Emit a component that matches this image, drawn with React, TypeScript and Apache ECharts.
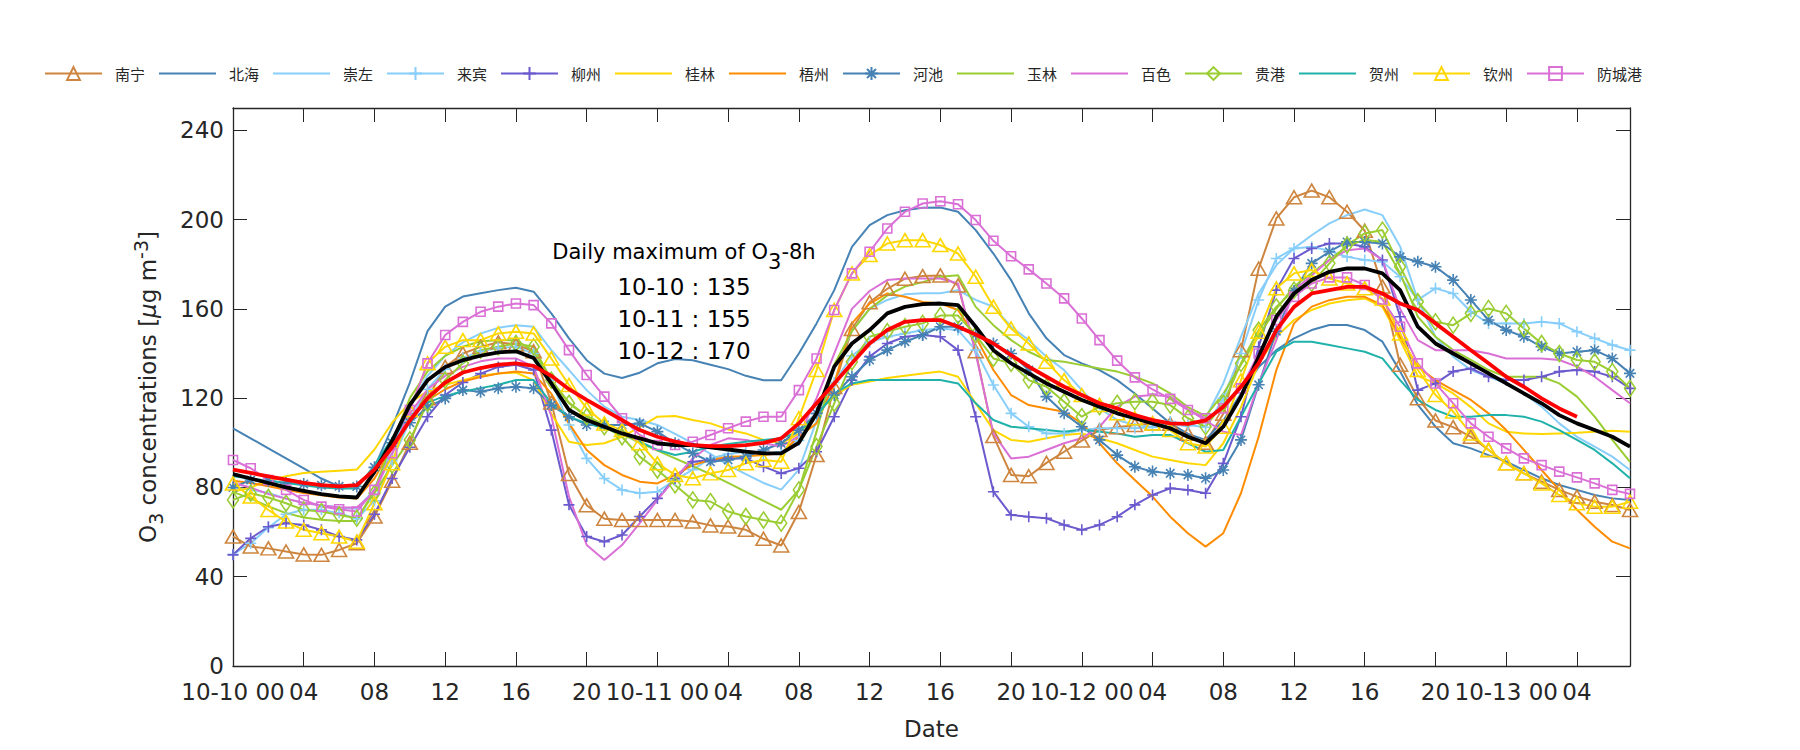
import React, { useEffect, useRef } from "react";
import * as echarts from "echarts";

// ---- data (hourly O3, 10-10 00 .. 10-13 07) ----
const stations = ["南宁", "北海", "崇左", "来宾", "柳州", "桂林", "梧州", "河池", "玉林", "百色", "贵港", "贺州", "钦州", "防城港"];
const stationColors = ["#CD853F", "#4682B4", "#87CEFA", "#87CEFA", "#6A5ACD", "#FFD700", "#FF8C00", "#4682B4", "#9ACD32", "#DA70D6", "#9ACD32", "#20B2AA", "#FFD700", "#DA70D6"];
const stationMarkers = ["triangle", "none", "none", "plus", "plus", "none", "none", "star", "none", "none", "diamond", "none", "triangle", "square"];
const dayLabels = ["10-10", "10-11", "10-12", "10-13"];
const hourLabels = ["00", "04", "08", "12", "16", "20"];

const nanning = [58, 53.5, 52.7, 51.3, 50, 49.8, 52, 55, 67, 83, 100, 120, 134, 140, 143, 145, 144, 141, 118, 86, 72, 66, 65.4, 65.4, 65.4, 65.4, 64.7, 63, 62.5, 61, 57, 54, 69, 94.5, 125, 151, 163, 169, 173.5, 174.7, 175, 170.5, 141, 103, 85.6, 85, 91, 96, 101, 105.7, 107, 108, 108.7, 108.5, 104, 100, 113, 141.5, 178, 200.5, 210, 213, 210, 203.5, 195, 170, 135, 120, 110, 107, 102.7, 96.8, 90.8, 86.3, 82.6, 78.9, 75.9, 73.6, 72.1, 69.9];
const beihai = [106.5, 102, 97.5, 93, 88.5, 84, 80.5, 80.5, 89, 107, 127, 150, 161, 165.5, 167, 168.4, 169.5, 167.7, 158, 146.8, 137, 131, 129, 131.4, 135.6, 137.5, 137, 135, 133, 130, 128, 128, 140, 153.5, 168.4, 187.8, 197.5, 202, 204.2, 205.3, 205.4, 203.5, 195.3, 184.8, 172.9, 158, 146.8, 139.3, 135.6, 132.6, 128.1, 122.1, 115.4, 108.7, 104, 101.3, 110, 122, 134, 141.5, 146.8, 150.5, 152.8, 152.8, 150.5, 145.3, 132, 117, 107.2, 99.8, 97.5, 94.5, 91.6, 87.8, 84.1, 81.1, 78.9, 76.6, 75.1, 74.4];
const chongzuo = [80, 79, 77.5, 75, 73, 72, 71, 70.5, 79, 98, 117, 130, 139, 145, 149, 151.5, 152.7, 152, 141.5, 132.6, 123.6, 116.2, 111.7, 110.2, 108, 104, 99.8, 95, 90, 86, 82, 79, 88, 110, 133, 150, 160, 164, 166.5, 167, 167, 168.4, 164, 161, 152, 146, 138.6, 132.6, 123.6, 115.4, 110.2, 108, 107.2, 108.7, 107.2, 111, 126.6, 147.5, 166.9, 179.6, 187.1, 193, 198.3, 202, 204.5, 202, 188, 164, 147.5, 138.6, 132.6, 129.6, 126.6, 122.1, 116.2, 108.7, 102.7, 98.3, 93.8, 87.8];
const laibin = [50, 55, 62, 68, 70, 70, 68.5, 66, 74, 92, 110, 124, 133, 138, 141, 142.5, 143, 140, 128, 108, 93, 84, 78.9, 77.4, 78.1, 83.3, 88, 93, 95, 96, 95, 96, 101, 113, 127, 139, 145, 147.5, 149, 150.5, 151.2, 150.5, 141.5, 125.9, 113.2, 107.2, 104.2, 104.2, 105.7, 106.5, 106.5, 106.5, 107, 109.5, 108, 107, 120, 140, 164, 182.6, 187.1, 187.8, 186, 183.3, 181.9, 181.1, 174.4, 164, 169.2, 166.9, 158.7, 153.5, 153.5, 153.5, 154.2, 153.5, 149.8, 146.8, 143.8, 141.5];
const liuzhou = [49.8, 57.2, 62.4, 64, 63.2, 61, 58, 56.5, 68, 84, 98, 111.7, 121.4, 127, 131, 134, 135, 132.6, 105.7, 72.2, 58, 55.7, 58.7, 67, 75.1, 84, 91.5, 92.3, 93, 93, 89.3, 86.3, 88.6, 96, 111.7, 128, 138.6, 144.5, 147.5, 148.3, 147.5, 141.5, 111.7, 78.1, 67.7, 66.9, 66.2, 63.2, 61, 63.2, 66.9, 72.2, 76.6, 79.6, 78.9, 77.4, 90.8, 111.7, 143, 168.4, 182.6, 187.1, 189.3, 189.3, 187.8, 181.9, 156.5, 123.6, 126.6, 131.9, 133.3, 129.6, 128.1, 128.1, 129.6, 131.9, 132.6, 131.9, 129.6, 124.4];
const guilin = [78, 80, 83, 85, 86.5, 87, 87.5, 88, 97, 109, 118, 123, 126, 128, 130, 131, 131.5, 128, 113, 100.5, 99, 99.8, 102.7, 107, 111.7, 112, 110.2, 108.7, 106, 104.2, 101.3, 99.8, 104, 113, 121, 126, 127.5, 129, 130, 131, 131.9, 129.6, 117.7, 105.7, 101.3, 100.5, 102, 103.5, 104.2, 102, 99.8, 96.8, 93.8, 92.3, 90.8, 90, 99.8, 116, 135.6, 147.5, 155, 159.5, 162.4, 163.9, 164.7, 160.9, 146, 130, 126.6, 122.1, 116, 108.7, 105, 104.2, 103.9, 104.2, 104.5, 105, 105.4, 105];
const wuzhou = [83, 82, 80.5, 79, 77.5, 76.5, 75.5, 75, 84, 98, 110, 119, 124, 127.5, 129.5, 131, 131.9, 131, 122, 108.7, 96.8, 90, 85.6, 82.6, 81.8, 85.6, 90, 92.3, 93.8, 94, 94.5, 95.3, 102.7, 108.7, 126.6, 153.5, 162.4, 166.9, 165.4, 163.1, 162.4, 159.5, 147.5, 132.6, 121.4, 116.9, 115.4, 113.9, 108.7, 99.8, 90.8, 83.3, 75.9, 66.9, 59.5, 53.5, 59.5, 77.4, 102.7, 132.6, 153.5, 161, 163.9, 165.4, 165.4, 161.7, 147.5, 134, 128.1, 123.6, 119.2, 113.2, 105.7, 96.8, 87.8, 78.9, 70, 62.4, 55.7, 52.7];
const hechi = [80, 83.3, 83, 82, 81.5, 81, 80.5, 80.4, 89, 100, 109, 116, 119.9, 123.6, 122.9, 124.4, 125.1, 124.4, 116.9, 111.7, 108, 108, 108, 108.7, 105, 99.8, 95.3, 91.5, 92.3, 93.8, 96.8, 99.8, 105.7, 113.2, 121.4, 129.6, 137.1, 141.5, 145.3, 148.3, 152, 152, 148.5, 144.5, 140, 132.6, 120.7, 113.2, 107.2, 101.3, 94.5, 89.3, 87.1, 86.3, 85.6, 84.1, 87.8, 101.3, 126, 150, 168, 180.4, 185.6, 190, 190, 189.3, 183.3, 181.1, 178.9, 172.9, 164, 155, 150.5, 147.5, 143, 140, 140.8, 141.5, 137.8, 131.1];
const yulin = [78, 75, 71.5, 68.5, 66.5, 65.5, 65, 65, 79, 100, 120, 132, 139, 143, 145.5, 146, 146, 141, 128, 118, 112, 108, 104, 100, 96.5, 93, 89.5, 86, 82, 78, 74, 70, 78.9, 105, 135, 150, 160, 166, 170, 172, 174.4, 175.1, 160.9, 152.7, 146, 140.8, 137.1, 136.3, 134.8, 133.3, 131.9, 129.6, 126.6, 122.1, 116, 112, 122, 135, 148, 160, 170, 176, 182, 188, 191, 190, 176, 156.5, 147.5, 141.5, 137.1, 132.6, 129.6, 129.6, 129.6, 126.6, 120.7, 111.7, 101.3, 91.5];
const baise = [82, 80, 77, 75, 73, 72, 71, 71, 78, 95, 113, 124, 130, 134, 136.5, 137.8, 137.8, 134.1, 112, 75.9, 54.2, 47.5, 54.2, 64, 74.4, 84, 93, 99, 102, 101.3, 99.8, 98.3, 103, 120, 140, 160, 168, 172.9, 173.6, 173.6, 173.6, 171.4, 140, 104.2, 93, 93.8, 96.8, 99.8, 102, 107.2, 116.2, 120.7, 121.4, 120.7, 115, 110, 105, 103.5, 126.6, 146, 168.4, 175, 181.9, 186.3, 187.1, 181.9, 160, 146, 141.5, 141.5, 141.5, 140, 137.8, 137.8, 137.8, 137.1, 134.1, 129.6, 123.6, 117.7];
const guigang = [74.4, 77.4, 75.5, 72.9, 69.9, 69.2, 67.7, 66.2, 77.4, 90, 101.3, 117.7, 128.1, 135.6, 141.5, 143, 144.5, 143, 128.1, 117.7, 111.7, 107.2, 102.7, 93.8, 87.8, 81.1, 74.4, 73.7, 69.2, 67, 65.4, 64, 78.9, 98.3, 117.7, 136.3, 147.5, 149.8, 152, 153.5, 157, 157, 148.3, 137.8, 135.6, 128.1, 125.1, 118.4, 111.7, 116.2, 117.7, 118.4, 118.4, 116.9, 111, 107.2, 117.7, 135.6, 150.5, 160.9, 168.4, 171.4, 180.4, 188.6, 193.8, 195.3, 178.9, 163.2, 154.2, 152.7, 158, 160.2, 158, 151.2, 144.5, 140, 137.1, 136.3, 131.9, 124.4];
const hezhou = [85, 84, 83, 82, 81, 80, 79.5, 79.5, 90, 102, 112, 118, 121, 123, 124.5, 126, 128.1, 128.1, 117.7, 111.7, 108.7, 106.5, 104.2, 100.5, 96.8, 94.5, 96, 98.3, 99.5, 100.5, 101.3, 102, 105, 112, 122.1, 126.6, 128.1, 128.1, 128.1, 128.1, 128.1, 126.6, 117.7, 110.2, 107.2, 106.5, 105.7, 105, 106, 105, 104.2, 102.7, 103.5, 103.5, 99.8, 96, 96.8, 111.7, 126.6, 140.8, 145.3, 145.3, 143.8, 142.3, 140.8, 137.8, 128.1, 119.2, 114.7, 111.7, 111.7, 112.4, 112.4, 111.7, 109.5, 105.7, 101.3, 96.8, 90.8, 84.1];
const qinzhou = [81.8, 75.9, 69.9, 64.7, 61, 59.5, 58, 55.7, 72.9, 90.8, 114.7, 135.6, 143, 146, 146, 149, 149.8, 149, 137.8, 125.9, 115.4, 108.7, 105.7, 99.8, 90.8, 85.6, 84.1, 86.3, 87.8, 90.8, 92.3, 91.5, 111, 132.6, 159.5, 175.9, 184.1, 189.3, 190.8, 190.8, 188.6, 184.8, 174.4, 161, 151.2, 144.5, 136.3, 128.1, 121.4, 116.9, 113.2, 111, 108.7, 105.7, 99.8, 98.3, 107.2, 128, 149.8, 169.2, 175.9, 177.4, 173.6, 171.4, 169.2, 164.7, 149, 132.6, 121.4, 114, 104.2, 96.8, 90.8, 86.3, 81.8, 76.6, 72.9, 71.4, 71.4, 73.6];
const fangchenggang = [92.3, 88.6, 83.3, 78.9, 74.4, 71.4, 70.2, 69.2, 78.9, 95.3, 114.7, 135.6, 148.3, 154.2, 158.7, 161, 162.4, 161.7, 153.5, 141.5, 130.4, 120.7, 111, 103.5, 99, 99, 100.5, 103.5, 106.5, 109.5, 111.7, 111.7, 123.6, 137.8, 159.5, 175.9, 185.6, 196, 203.5, 207.2, 208.2, 206.9, 199.8, 190.5, 183.6, 177.7, 171.4, 164.7, 155.7, 146, 136.8, 129.3, 123.9, 119.7, 114.7, 111, 115.4, 124.4, 140, 155, 165.4, 171.4, 174.1, 174.1, 170.7, 164.2, 152, 135.6, 126.6, 117.7, 108.7, 102.7, 97.5, 93, 90, 87.1, 84.5, 81.8, 78.9, 77.1];
const redLine = [88, 86.5, 85, 83.5, 82, 81, 80.5, 81, 88, 98, 110, 120, 127, 131.5, 133.5, 135, 135.6, 134.5, 130, 124, 119.2, 114.7, 110.2, 105.7, 102.7, 100.5, 99, 98.5, 98.5, 99, 100, 102, 108.7, 117.7, 126.6, 135.6, 144.5, 150.5, 154.2, 155, 155, 152, 148.5, 144.5, 139.3, 134.1, 129.6, 125.1, 121.4, 117.7, 115.4, 112.4, 110.2, 108.7, 108.5, 110, 116.2, 125.1, 135.6, 150.5, 160.9, 166.9, 168.4, 169.9, 169.9, 166.9, 162.4, 159.5, 153.5, 147.5, 141.5, 135.6, 129.6, 125.1, 119.9, 115.4, 111.7];
const blackLine = [86, 84, 82, 80, 78.5, 77, 76, 75.5, 87, 101, 117, 128, 134, 137, 139, 140.5, 141, 138, 126.6, 114.7, 110.2, 107.2, 104.2, 102, 99.8, 99, 99, 98, 97, 96, 95.3, 95.3, 100, 113.2, 134.1, 144.5, 150.5, 158, 160.9, 162.1, 162.4, 161.7, 152, 141.5, 135.6, 131.1, 126.6, 122.9, 119.2, 116.2, 113.2, 111, 108.7, 106.5, 102.7, 99.8, 107.2, 120.7, 138.6, 156.5, 166.9, 172.9, 176.6, 178.1, 178.1, 175.9, 168.4, 152, 144.5, 140, 135.6, 131.1, 126.6, 122.1, 117.7, 112.4, 108.7, 105.7, 102.7, 98.3];

const stationValues = [nanning, beihai, chongzuo, laibin, liuzhou, guilin, wuzhou, hechi, yulin, baise, guigang, hezhou, qinzhou, fangchenggang];

const annotationTitle = "Daily maximum of O";
const annotationLines = ["10-10 : 135", "10-11 : 155", "10-12 : 170"];

// ---- styling ----
const FONT = "DejaVu Sans";
const AX = "#262626";
const PLUS = "path://M5,0L5,10M0,5L10,5";
const STAR = "path://M5,0L5,10M0,5L10,5M1.5,1.5L8.5,8.5M8.5,1.5L1.5,8.5";

function markerSpec(m: string, c: string) {
  const hollow = { color: "rgba(0,0,0,0)", borderColor: c, borderWidth: 1.6 };
  const solid = { color: c, borderColor: c, borderWidth: 1.6 };
  switch (m) {
    case "triangle":
      return { symbol: "triangle", symbolSize: [15, 13], itemStyle: hollow, showSymbol: true };
    case "diamond":
      return { symbol: "diamond", symbolSize: [11, 16], itemStyle: hollow, showSymbol: true };
    case "square":
      return { symbol: "rect", symbolSize: [9, 9], itemStyle: hollow, showSymbol: true };
    case "plus":
      return { symbol: PLUS, symbolSize: 11, itemStyle: solid, showSymbol: true };
    case "star":
      return { symbol: STAR, symbolSize: 12, itemStyle: solid, showSymbol: true };
    default:
      return { symbol: "none", showSymbol: false, itemStyle: { color: c } };
  }
}

function toPairs(vals: number[]) {
  return vals.map((v, i) => [i, v]);
}

function xLabel(v: number) {
  const d = Math.floor(v / 24);
  const h = v % 24;
  if (h === 0) return `${dayLabels[d]} ${hourLabels[0]}`;
  return hourLabels[h / 4] ?? String(h).padStart(2, "0");
}

export default function App() {
  const ref = useRef<HTMLDivElement>(null);
  useEffect(() => {
    if (!ref.current) return;
    const chart = echarts.init(ref.current, undefined, { renderer: "svg" });

    const series: any[] = stations.map((name, k) => {
      const c = stationColors[k];
      const m = markerSpec(stationMarkers[k], c);
      return {
        type: "line",
        name,
        data: toPairs(stationValues[k]),
        xAxisIndex: 0,
        yAxisIndex: 0,
        lineStyle: { color: c, width: 2 },
        emphasis: { disabled: true },
        z: 2,
        ...m,
      };
    });
    series.push({
      type: "line",
      name: "black",
      data: toPairs(blackLine),
      symbol: "none",
      showSymbol: false,
      lineStyle: { color: "#000000", width: 3.8 },
      itemStyle: { color: "#000000" },
      z: 3,
    });
    series.push({
      type: "line",
      name: "red",
      data: toPairs(redLine),
      symbol: "none",
      showSymbol: false,
      lineStyle: { color: "#FF0000", width: 3.8 },
      itemStyle: { color: "#FF0000" },
      z: 4,
    });

    const legendData = stations.map((name, k) =>
      stationMarkers[k] === "none"
        ? { name, itemStyle: { color: "rgba(0,0,0,0)", borderColor: "rgba(0,0,0,0)", borderWidth: 0, opacity: 0 } }
        : { name }
    );

    const baseX = {
      type: "value",
      min: 0,
      max: 79,
      interval: 4,
      splitLine: { show: false },
      axisLine: { show: true, onZero: false, lineStyle: { color: AX, width: 1.3 } },
      axisTick: { show: true, inside: true, length: 14, lineStyle: { color: AX, width: 1 } },
    };
    const baseY = {
      type: "value",
      min: 0,
      max: 250,
      interval: 40,
      splitLine: { show: false },
      axisLine: { show: true, onZero: false, lineStyle: { color: AX, width: 1.3 } },
      axisTick: { show: true, inside: true, length: 14, lineStyle: { color: AX, width: 1 } },
    };

    chart.setOption({
      animation: false,
      backgroundColor: "#ffffff",
      textStyle: { fontFamily: FONT },
      grid: { left: 233, right: 170, top: 108, bottom: 84, containLabel: false, outerBoundsMode: "none" },
      legend: {
        data: legendData,
        left: 39,
        top: 61,
        itemWidth: 57,
        itemHeight: 16,
        itemGap: 13,
        selectedMode: false,
        textStyle: { fontSize: 15, fontFamily: "Noto Sans CJK SC", color: AX, padding: [0, 0, 0, 8] },
      },
      xAxis: [
        {
          ...baseX,
          position: "bottom",
          name: "Date",
          nameLocation: "middle",
          nameGap: 51,
          nameTextStyle: { fontSize: 23, color: AX, fontFamily: FONT },
          axisLabel: { show: true, fontSize: 23, color: AX, fontFamily: FONT, margin: 14, showMaxLabel: false, formatter: (v: number) => xLabel(v) },
        },
        { ...baseX, position: "top", axisLabel: { show: false } },
      ],
      yAxis: [
        {
          ...baseY,
          position: "left",
          name: "{a|O}{sub|3}{a| concentrations [}{mu|μ}{a|g m}{sup|-3}{a|]}",
          nameLocation: "middle",
          nameRotate: 90,
          nameGap: 68,
          nameTextStyle: {
            fontSize: 23,
            color: AX,
            fontFamily: FONT,
            rich: {
              a: { fontSize: 23, color: AX, fontFamily: FONT, lineHeight: 34, verticalAlign: "middle" },
              mu: { fontSize: 23, color: AX, fontFamily: FONT, fontStyle: "italic", lineHeight: 34, verticalAlign: "middle" },
              sub: { fontSize: 19, color: AX, fontFamily: FONT, lineHeight: 16, verticalAlign: "bottom" },
              sup: { fontSize: 19, color: AX, fontFamily: FONT, lineHeight: 16, verticalAlign: "top" },
            },
          },
          axisLabel: { show: true, fontSize: 23, color: AX, fontFamily: FONT, margin: 9, showMaxLabel: false },
        },
        { ...baseY, position: "right", axisLabel: { show: false } },
      ],
      graphic: [
        {
          type: "text",
          x: 684,
          y: 252,
          z: 100,
          style: {
            text: `{a|${annotationTitle}}{s|3}{a|-8h}`,
            align: "center",
            verticalAlign: "middle",
            textAlign: "center",
            textVerticalAlign: "middle",
            rich: {
              a: { fontSize: 21, fill: "#000", fontFamily: FONT, lineHeight: 40, verticalAlign: "middle" },
              s: { fontSize: 21, fill: "#000", fontFamily: FONT, lineHeight: 14, verticalAlign: "bottom" },
            },
          },
        },
        ...annotationLines.map((t, i) => ({
          type: "text",
          x: 684,
          y: 287 + i * 32,
          z: 100,
          style: {
            text: t,
            fill: "#000",
            font: `23px "${FONT}"`,
            align: "center",
            verticalAlign: "middle",
            textAlign: "center",
            textVerticalAlign: "middle",
          },
        })),
      ],
      series,
    });

    return () => chart.dispose();
  }, []);

  return (
    <div
      ref={ref}
      style={{ position: "fixed", left: 0, top: 0, width: 1800, height: 750, background: "#fff" }}
    />
  );
}
